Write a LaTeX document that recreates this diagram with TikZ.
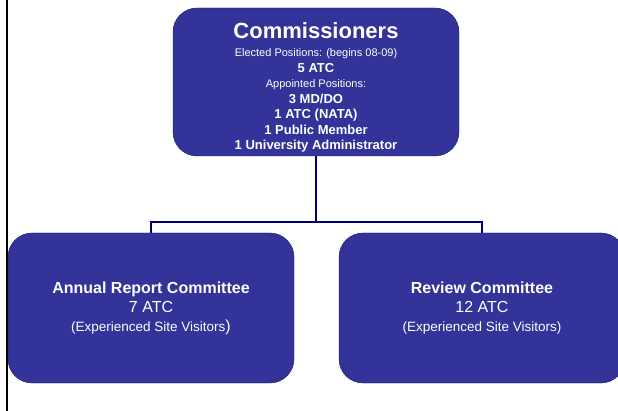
\documentclass[tikz,border=0pt]{standalone}
\usepackage{fontspec}
\setmainfont{Liberation Sans}
\usepackage{xcolor}
\usepackage{tikz}
\definecolor{cmblue}{RGB}{51,51,153}
\definecolor{cmedge}{RGB}{24,24,104}
\definecolor{cmnavy}{RGB}{0,0,112}

\begin{document}
\begin{tikzpicture}[
  x=1pt, y=-1pt,
  box/.style={draw=cmedge, fill=cmblue, rounded corners=24pt, text=white, align=center, minimum width=286pt, inner sep=0pt},
  topbox/.style={box, minimum height=148pt, font=\fontsize{13}{15.5}\selectfont\bfseries},
  subbox/.style={box, minimum height=150pt, font=\fontsize{16}{19}\selectfont},
  conn/.style={draw=cmnavy, line width=1.6pt},
  leftrule/.style={draw=black, line width=2pt}
]
\useasboundingbox (0,0) rectangle (618,411);
\clip (0,0) rectangle (618,411);
\draw[leftrule] (7,0) -- (7,411);
\node[topbox] (comm) at (316,82) {\rule{0pt}{27pt}{\fontsize{22}{26}\selectfont Commissioners}\\[2.5pt]
  {\fontsize{11}{13}\selectfont\mdseries Elected Positions: (begins 08-09)}\\
  5 ATC\\
  {\fontsize{11}{13}\selectfont\mdseries Appointed Positions:}\\
  3 MD/DO\\
  1 ATC (NATA)\\
  1 Public Member\\
  1 University Administrator};
\node[subbox] (annual) at (151,308) {\textbf{Annual Report Committee}\\
  7 ATC\\
  {\fontsize{13.5}{16}\selectfont (Experienced Site Visitors}{)}};
\node[subbox] (review) at (482,308) {\textbf{Review Committee}\\
  12 ATC\\
  {\fontsize{13.5}{16}\selectfont (Experienced Site Visitors)}};
% tree lines
\coordinate (split) at (316,222);
\draw[conn] (comm.south) -- (split);
\draw[conn] (annual.north) |- (split) -| (review.north);
\end{tikzpicture}
\end{document}
